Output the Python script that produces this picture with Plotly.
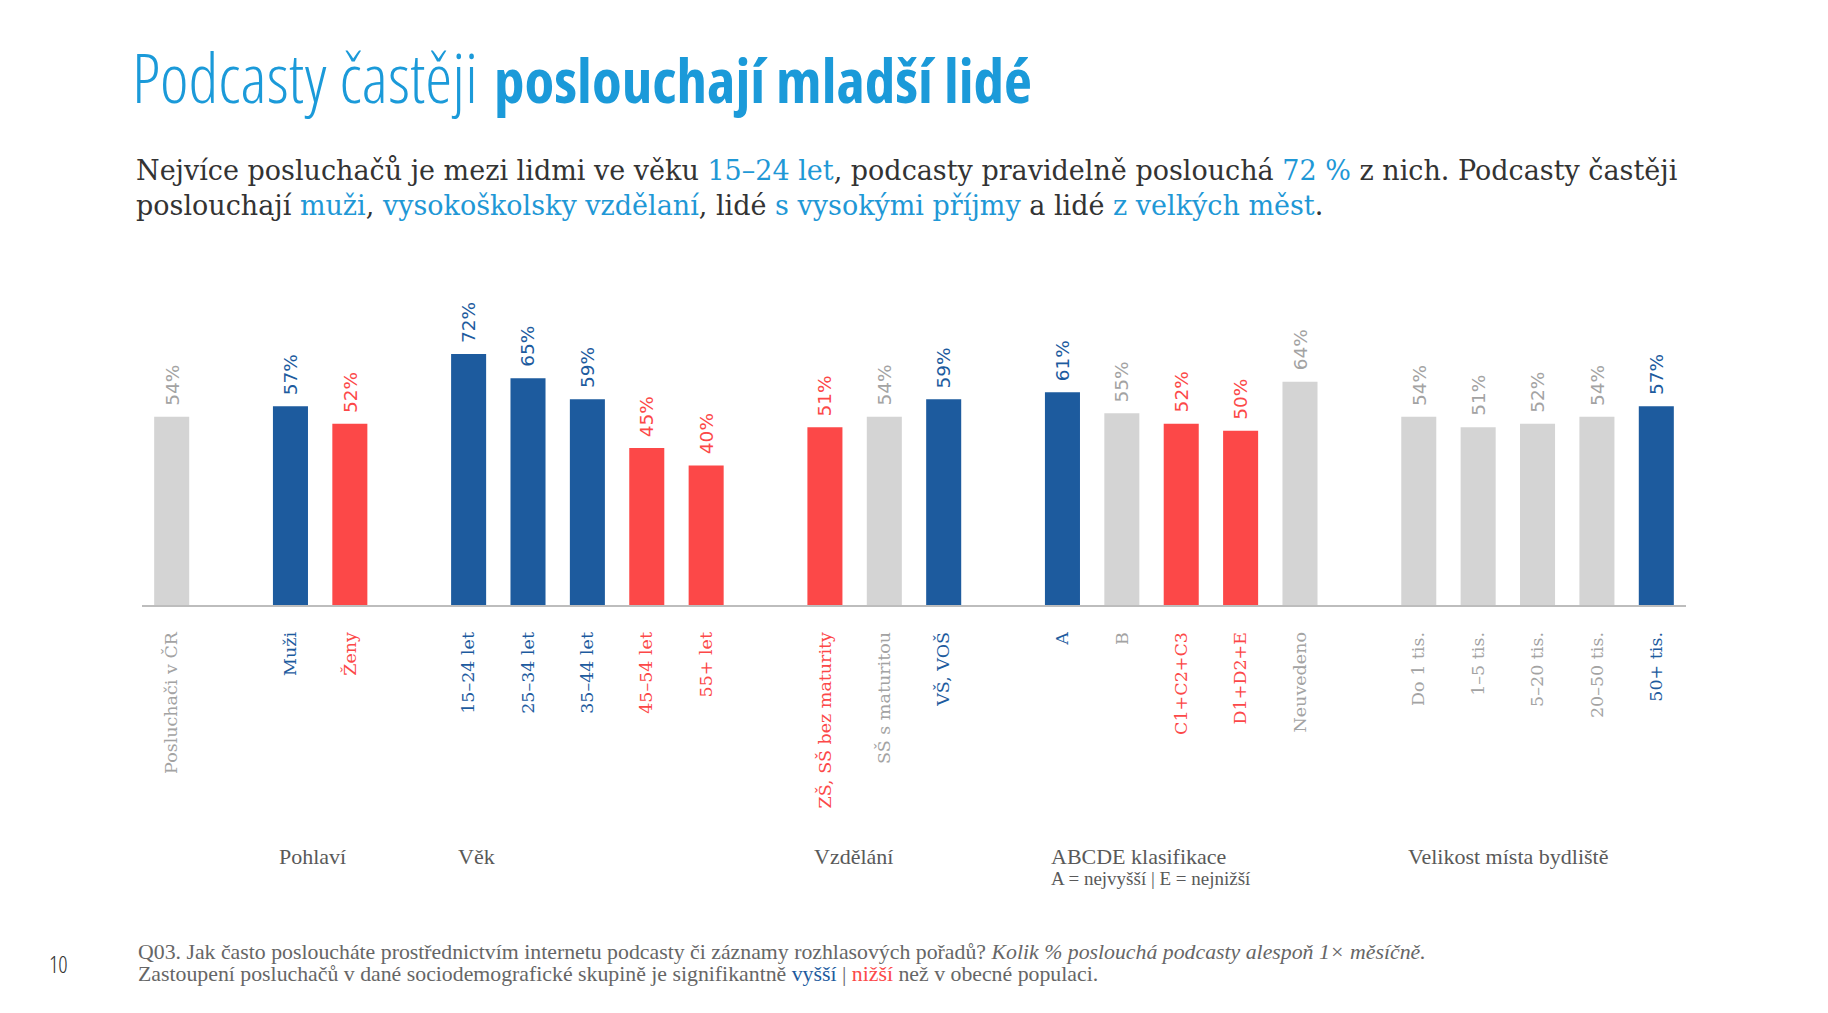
import plotly.graph_objects as go

# canvas and plot box (pixels)
W, H = 1828, 1013
PL, PR, PT, PB = 142, 1686, 326, 605

# data
categories = ["Posluchači v ČR", "Muži", "Ženy",
              "15–24 let", "25–34 let", "35–44 let", "45–54 let", "55+ let",
              "ZŠ, SŠ bez maturity", "SŠ s maturitou", "VŠ, VOŠ",
              "A", "B", "C1+C2+C3", "D1+D2+E", "Neuvedeno",
              "Do 1 tis.", "1–5 tis.", "5–20 tis.", "20–50 tis.", "50+ tis."]
values = [54, 57, 52, 72, 65, 59, 45, 40, 51, 54, 59, 61, 55, 52, 50, 64, 54, 51, 52, 54, 57]
# significance vs. population: hi = higher, lo = lower, avg = not significant
signif = ["avg", "hi", "lo", "hi", "hi", "hi", "lo", "lo", "lo", "avg", "hi",
          "hi", "avg", "lo", "lo", "avg", "avg", "avg", "avg", "avg", "hi"]
group_names = [None, "Pohlaví", "Věk", "Vzdělání", "ABCDE klasifikace", "Velikost místa bydliště"]
group_sizes = [1, 2, 5, 3, 5, 5]

BLUE, RED, GREY = "#1d5b9e", "#fc4848", "#d4d4d4"
bar_col = {"hi": BLUE, "lo": RED, "avg": GREY}
txt_col = {"hi": BLUE, "lo": RED, "avg": "#a3a3a3"}
CYAN = "#1b9ad9"

# x slots with one empty slot between groups
slots, group_start = [], []
pos = 0
for n in group_sizes:
    group_start.append(pos)
    slots.extend(range(pos, pos + n))
    pos += n + 1


def px(x):
    return (x - PL) / (PR - PL)


def py(y):
    return (PB - y) / (PB - PT)


def note(x, y, text, font, **kw):
    return dict(x=px(x), y=py(y), xref="paper", yref="paper", text=text,
                showarrow=False, xanchor="left", yanchor="middle", align="left",
                font=font, **kw)


fig = go.Figure(go.Bar(
    x=slots, y=values, width=0.59,
    marker=dict(color=[bar_col[s] for s in signif], line_width=0),
    hoverinfo="skip"))

ann = []
for x, v, s in zip(slots, values, signif):
    ann.append(dict(x=x, y=v, xref="x", yref="y", text=f"{v}%", showarrow=False,
                    textangle=-90, xanchor="center", yanchor="bottom", yshift=9,
                    font=dict(family="DejaVu Sans", size=18.5, color=txt_col[s])))

for name, start in zip(group_names, group_start):
    if name is None:
        continue
    ann.append(dict(x=start - 0.22, y=py(856), xref="x", yref="paper", text=name,
                    showarrow=False, xanchor="left", yanchor="middle",
                    font=dict(family="Liberation Serif", size=22, color="#595959")))
ann.append(dict(x=group_start[4] - 0.22, y=py(878), xref="x", yref="paper",
                text="A = nejvyšší | E = nejnižší", showarrow=False,
                xanchor="left", yanchor="middle",
                font=dict(family="Liberation Serif", size=19, color="#595959")))

# title
ann.append(note(130, 77,
                "<span style='font-stretch:75%;font-weight:300;font-size:68px'>Podcasty častěji</span> "
                "<span style='font-stretch:75%;font-weight:700;font-size:61px'>poslouchají mladší lidé</span>",
                dict(family="Open Sans", size=62, color=CYAN)))

# subtitle
B2 = "#1f98d6"
sub = ("Nejvíce posluchačů je mezi lidmi ve věku "
       f"<span style='color:{B2}'>15–24 let</span>, podcasty pravidelně poslouchá "
       f"<span style='color:{B2}'>72 %</span> z nich. Podcasty častěji<br>"
       f"poslouchají <span style='color:{B2}'>muži</span>, "
       f"<span style='color:{B2}'>vysokoškolsky vzdělaní</span>, lidé "
       f"<span style='color:{B2}'>s vysokými příjmy</span> a lidé "
       f"<span style='color:{B2}'>z velkých měst</span>.")
ann.append(note(134, 188, sub, dict(family="DejaVu Serif", size=27, color="#333333")))

# footnote: small base size keeps the two lines tight, text itself is larger
foot = ("<span style='font-size:21.8px'>"
        "Q03. Jak často posloucháte prostřednictvím internetu podcasty či záznamy rozhlasových pořadů? "
        "<i>Kolik % poslouchá podcasty alespoň 1× měsíčně.</i></span><br>"
        "<span style='font-size:21.8px'>"
        "Zastoupení posluchačů v dané sociodemografické skupině je signifikantně "
        f"<span style='color:{BLUE}'>vyšší</span> | <span style='color:{RED}'>nižší</span>"
        " než v obecné populaci.</span>")
ann.append(note(136, 963, foot, dict(family="Liberation Serif", size=17, color="#666666")))
ann.append(note(47, 964, "<span style='font-stretch:75%;font-weight:300'>10</span>",
                dict(family="Open Sans", size=23, color="#333333")))

fig.update_layout(
    width=W, height=H, margin=dict(l=PL, r=W - PR, t=PT, b=H - PB),
    paper_bgcolor="white", plot_bgcolor="white", showlegend=False,
    annotations=ann,
    xaxis=dict(range=[-0.5, 25.5], tickvals=slots,
               ticktext=[f"<span style='color:{txt_col[s]}'>{c}</span>" for c, s in zip(categories, signif)],
               tickangle=-90, tickfont=dict(family="DejaVu Serif", size=17.5),
               showline=True, linecolor="#bdbdbd", linewidth=2, showgrid=False,
               zeroline=False, ticks="", ticklabelstandoff=18, fixedrange=True),
    yaxis=dict(range=[0, 80], visible=False, fixedrange=True),
)

fig.write_html("out.html", config={"displayModeBar": False},
               post_script="document.body.style.margin='0';")
